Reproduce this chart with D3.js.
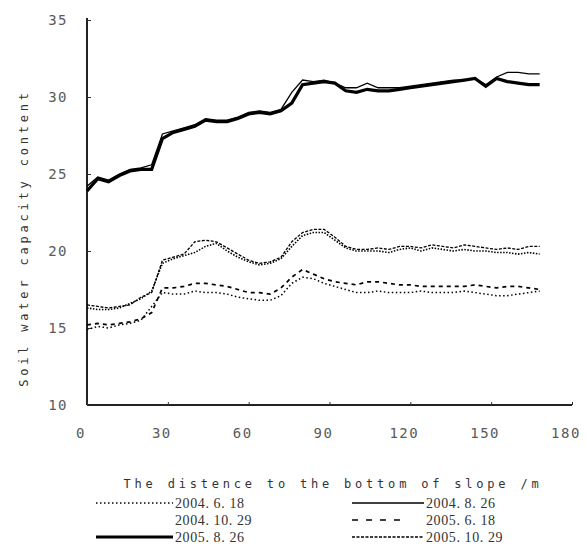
<!DOCTYPE html>
<html>
<head>
<meta charset="utf-8">
<script src="https://cdn.jsdelivr.net/npm/d3@7"></script>
<style>
    body { margin: 0; background: #fff; }
    .tick-label { font-family: "DejaVu Sans Mono", monospace; font-size: 14px; fill: #5a5a5a; letter-spacing: 1.5px; }
    .axis-title { font-family: "DejaVu Sans Mono", monospace; font-size: 12px; fill: #333; letter-spacing: 3.8px; }
    .legend-text { font-family: "Liberation Serif", serif; font-size: 14px; fill: #333; letter-spacing: 0.6px; }
</style>
</head>
<body>
<div id="chart"></div>
<script>
// distance to the bottom of slope (m)
const distances = [0, 4, 8, 12, 16, 20, 24, 28, 32, 36, 40, 44, 48, 52, 56, 60, 64, 68, 72, 76, 80,
    84, 88, 92, 96, 100, 104, 108, 112, 116, 120, 124, 128, 132, 136, 140, 144, 148, 152, 156, 160, 164, 168];

// soil water capacity content for each sampling date
const jun2004 = [14.9, 15.1, 15.0, 15.2, 15.3, 15.5, 16.4, 17.3, 17.2, 17.2, 17.4, 17.3, 17.3, 17.2, 17.0, 16.9, 16.8, 16.8, 17.1, 17.9, 18.3,
    18.2, 17.9, 17.7, 17.5, 17.3, 17.3, 17.4, 17.3, 17.3, 17.3, 17.4, 17.3, 17.3, 17.3, 17.4, 17.3, 17.2, 17.1, 17.1, 17.2, 17.3, 17.4];
const aug2004 = [24.2, 24.8, 24.6, 25.0, 25.3, 25.4, 25.6, 27.6, 27.8, 28.0, 28.2, 28.6, 28.5, 28.5, 28.7, 29.0, 29.1, 29.0, 29.2, 30.3, 31.1,
    31.0, 31.1, 30.9, 30.6, 30.6, 30.9, 30.6, 30.6, 30.6, 30.7, 30.8, 30.9, 31.0, 31.1, 31.1, 31.2, 30.8, 31.3, 31.6, 31.6, 31.5, 31.5];
const oct2004 = [16.3, 16.2, 16.2, 16.3, 16.6, 16.9, 17.4, 19.2, 19.5, 19.7, 19.9, 20.3, 20.5, 20.0, 19.6, 19.3, 19.1, 19.2, 19.5, 20.3, 21.0,
    21.2, 21.2, 20.7, 20.2, 20.0, 20.0, 20.0, 19.9, 20.1, 20.2, 20.0, 20.2, 20.1, 20.0, 20.1, 20.0, 20.0, 19.9, 19.9, 19.8, 19.9, 19.8];
const jun2005 = [15.2, 15.3, 15.2, 15.3, 15.4, 15.6, 16.0, 17.6, 17.6, 17.7, 17.9, 17.9, 17.8, 17.7, 17.5, 17.3, 17.3, 17.2, 17.6, 18.3, 18.8,
    18.5, 18.2, 18.0, 17.9, 17.8, 18.0, 18.0, 17.9, 17.8, 17.8, 17.7, 17.7, 17.7, 17.7, 17.7, 17.8, 17.7, 17.6, 17.7, 17.7, 17.6, 17.5];
const aug2005 = [23.9, 24.7, 24.5, 24.9, 25.2, 25.3, 25.3, 27.3, 27.7, 27.9, 28.1, 28.5, 28.4, 28.4, 28.6, 28.9, 29.0, 28.9, 29.1, 29.6, 30.8,
    30.9, 31.0, 30.9, 30.4, 30.3, 30.5, 30.4, 30.4, 30.5, 30.6, 30.7, 30.8, 30.9, 31.0, 31.1, 31.2, 30.7, 31.2, 31.0, 30.9, 30.8, 30.8];
const oct2005 = [16.5, 16.4, 16.3, 16.4, 16.5, 17.0, 17.3, 19.4, 19.6, 19.8, 20.6, 20.7, 20.6, 20.2, 19.8, 19.4, 19.2, 19.3, 19.6, 20.6, 21.2,
    21.4, 21.4, 20.9, 20.3, 20.1, 20.1, 20.2, 20.1, 20.3, 20.3, 20.2, 20.4, 20.3, 20.2, 20.4, 20.3, 20.2, 20.1, 20.2, 20.1, 20.3, 20.3];

const seriesNames = ['2004. 6. 18', '2004. 8. 26', '2004. 10. 29', '2005. 6. 18', '2005. 8. 26', '2005. 10. 29'];
const seriesValues = [jun2004, aug2004, oct2004, jun2005, aug2005, oct2005];

const xTicks = [0, 30, 60, 90, 120, 150, 180];
const yTicks = [10, 15, 20, 25, 30, 35];

const xTitle = 'The distence to the bottom of slope /m';
const yTitle = 'Soil water capacity content';

(function () {
    const Width = 587,
        Height = 555,
        Left = 87,
        Right = 572,
        Top = 20,
        Bottom = 405;

    // line style per series (dash pattern, width); blank legend sample for 2004.10.29
    const styles = {
        '2004. 6. 18': { dash: '1.5,2.5', width: 1.5, sample: true },
        '2004. 8. 26': { dash: null, width: 1.3, sample: true },
        '2004. 10. 29': { dash: '1.5,1.5', width: 1.6, sample: false },
        '2005. 6. 18': { dash: '4,4', width: 1.7, sample: true },
        '2005. 8. 26': { dash: null, width: 3.2, sample: true },
        '2005. 10. 29': { dash: '3,1.5', width: 1.3, sample: true }
    };
    // drawing order: lower groups first, thick line under thin
    const drawOrder = [0, 3, 2, 5, 4, 1];

    const svg = d3.select('#chart')
        .append('svg')
        .attr('width', Width)
        .attr('height', Height);

    const x = d3.scaleLinear().domain([0, 180]).range([Left, Right]);
    const y = d3.scaleLinear().domain([10, 35]).range([Bottom, Top]);

    // axes
    const yAxis = svg.append('g')
        .attr('transform', `translate(${Left},0)`)
        .call(d3.axisRight(y).tickValues(yTicks).tickSize(4).tickFormat(''));
    const xAxis = svg.append('g')
        .attr('transform', `translate(0,${Bottom})`)
        .call(d3.axisTop(x).tickValues(xTicks).tickSize(3).tickFormat(''));
    [yAxis, xAxis].forEach(a => {
        a.select('.domain').attr('stroke', '#222').attr('stroke-width', 2);
        a.selectAll('.tick line').attr('stroke', '#333').attr('stroke-width', 1);
    });
    yAxis.select('.domain').attr('d', `M0,${Top - 2}V${Bottom}`);
    xAxis.select('.domain').attr('d', `M${Left},0H${Right}`);

    svg.append('g').selectAll('text')
        .data(yTicks)
        .join('text')
        .attr('class', 'tick-label')
        .attr('x', 68)
        .attr('y', d => y(d))
        .attr('dy', '0.35em')
        .attr('text-anchor', 'end')
        .text(d => d);

    svg.append('g').selectAll('text')
        .data(xTicks)
        .join('text')
        .attr('class', 'tick-label')
        .attr('x', d => x(d) - 6)
        .attr('y', 438)
        .attr('text-anchor', 'middle')
        .text(d => d);

    svg.append('text')
        .attr('class', 'axis-title')
        .attr('x', 333)
        .attr('y', 488)
        .attr('text-anchor', 'middle')
        .text(xTitle);

    svg.append('text')
        .attr('class', 'axis-title')
        .attr('transform', 'translate(28,238) rotate(-90)')
        .attr('text-anchor', 'middle')
        .text(yTitle);

    // series
    const line = d3.line()
        .x((d, i) => x(distances[i]))
        .y(d => y(d));

    svg.append('g').selectAll('path')
        .data(drawOrder)
        .join('path')
        .attr('fill', 'none')
        .attr('stroke', '#000')
        .attr('stroke-linejoin', 'miter')
        .attr('stroke-width', i => styles[seriesNames[i]].width)
        .attr('stroke-dasharray', i => styles[seriesNames[i]].dash)
        .attr('d', i => line(seriesValues[i]));

    // legend: two columns, three rows
    const legendRows = d3.scalePoint().domain([0, 1, 2]).range([503, 537]);
    const legendCols = [{ x0: 96, x1: 173, tx: 175 }, { x0: 352, x1: 424, tx: 426 }];

    const items = svg.append('g').selectAll('g')
        .data(seriesNames)
        .join('g')
        .attr('transform', (d, i) => `translate(0,${legendRows(Math.floor(i / 2))})`);

    items.filter(d => styles[d].sample)
        .append('line')
        .attr('x1', d => legendCols[seriesNames.indexOf(d) % 2].x0)
        .attr('x2', d => d === '2005. 6. 18' ? 404 : legendCols[seriesNames.indexOf(d) % 2].x1)
        .attr('stroke', '#000')
        .attr('stroke-width', d => Math.min(styles[d].width, 3.5))
        .attr('stroke-dasharray', d => d === '2005. 6. 18' ? '6,8' : styles[d].dash);

    items.append('text')
        .attr('class', 'legend-text')
        .attr('x', (d, i) => legendCols[i % 2].tx)
        .attr('dy', '0.35em')
        .text(d => d);
})();
</script>
</body>
</html>
